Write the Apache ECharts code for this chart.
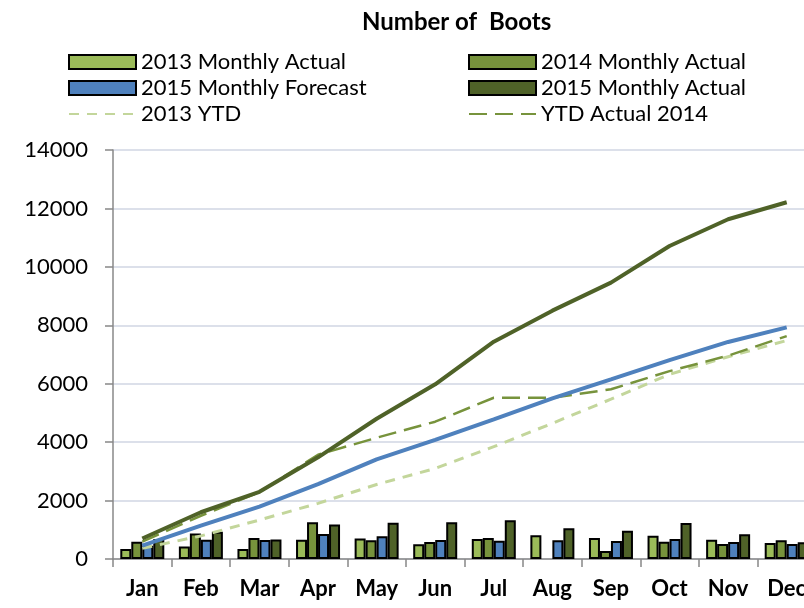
<!DOCTYPE html>
<html>
<head>
<meta charset="utf-8">
<script src="https://cdn.jsdelivr.net/npm/echarts@6/dist/echarts.min.js"></script>
<style>
  html, body { margin: 0; padding: 0; background: #fff; overflow: hidden; }
  /* the source picture is cut off on the right, so the chart runs past the window */
  #chart { width: 816px; height: 608px; }
</style>
</head>
<body>
<div id="chart"></div>
<script>
  const months = ['Jan', 'Feb', 'Mar', 'Apr', 'May', 'Jun', 'Jul', 'Aug', 'Sep', 'Oct', 'Nov', 'Dec'];

  // monthly bars (no 2014 bar in Aug)
  const monthly2013 = [340, 430, 342, 660, 700, 503, 685, 810, 720, 800, 662, 548];
  const monthly2014 = [593, 877, 720, 1255, 640, 582, 720, null, 274, 593, 514, 640];
  const forecast2015 = [450, 660, 650, 856, 775, 650, 628, 640, 616, 685, 582, 514];
  const actual2015 = [685, 935, 670, 1185, 1245, 1256, 1324, 1050, 970, 1233, 845, 570];

  // year-to-date lines
  const ytd2013 = [365, 790, 1335, 1905, 2550, 3100, 3845, 4645, 5470, 6320, 6925, 7480];
  const ytd2014 = [593, 1480, 2290, 3570, 4150, 4700, 5520, 5520, 5810, 6430, 6960, 7630];
  const ytdForecast2015 = [455, 1140, 1790, 2560, 3410, 4075, 4780, 5500, 6150, 6810, 7430, 7930];
  const ytdActual2015 = [700, 1600, 2300, 3480, 4800, 5980, 7440, 8500, 9460, 10715, 11630, 12210];

  const yTicks = [0, 2000, 4000, 6000, 8000, 10000, 12000, 14000];

  const font = 'Lato, "Open Sans", sans-serif';
  const chart = echarts.init(document.getElementById('chart'));

  function bar(name, data, color) {
    return {
      name: name,
      type: 'bar',
      data: data,
      barWidth: 11,
      barGap: '0%',
      itemStyle: { color: color, borderColor: '#000', borderWidth: 2 },
      z: 2
    };
  }

  function line(name, data, color, width, dash, z) {
    return {
      name: name,
      type: 'line',
      data: data,
      symbol: 'none',
      lineStyle: { color: color, width: width, type: dash },
      itemStyle: { color: color },
      z: z
    };
  }

  const legendText = { fontFamily: font, fontSize: 22, color: '#000' };
  // line entries: keep the line, hide the dot
  const noDot = { opacity: 0 };

  chart.setOption({
    animation: false,
    title: {
      text: 'Number of  Boots',
      left: 357,
      top: 5,
      textStyle: { fontFamily: font, fontSize: 24, fontWeight: 'bold', color: '#000' }
    },
    legend: [
      {
        left: 68, top: 51, orient: 'vertical', padding: 0,
        itemWidth: 67, itemHeight: 14, itemGap: 4,
        textStyle: legendText,
        data: [
          { name: '2013 Monthly Actual', icon: 'rect' },
          { name: '2015 Monthly Forecast', icon: 'rect' },
          { name: '2013 YTD', itemStyle: noDot }
        ]
      },
      {
        left: 468, top: 51, orient: 'vertical', padding: 0,
        itemWidth: 67, itemHeight: 14, itemGap: 4,
        textStyle: legendText,
        data: [
          { name: '2014 Monthly Actual', icon: 'rect' },
          { name: '2015 Monthly Actual', icon: 'rect' },
          { name: 'YTD Actual 2014', itemStyle: noDot }
        ]
      }
    ],
    grid: { left: 113, right: 0, top: 150, bottom: 49 },
    xAxis: {
      type: 'category',
      data: months,
      axisLine: { lineStyle: { color: '#888', width: 1.5 } },
      axisTick: { show: true, length: 8, lineStyle: { color: '#888', width: 1.5 } },
      axisLabel: { fontFamily: font, fontSize: 22, fontWeight: 'bold', color: '#000', margin: 19 }
    },
    yAxis: {
      type: 'value',
      min: yTicks[0],
      max: yTicks[yTicks.length - 1],
      interval: 2000,
      axisLine: { show: true, lineStyle: { color: '#888', width: 1.5 } },
      axisTick: { show: true, length: 8, lineStyle: { color: '#888', width: 1.5 } },
      axisLabel: { fontFamily: font, fontSize: 22, color: '#000', margin: 25, formatter: v => String(v) },
      splitLine: { lineStyle: { color: '#dce0ea', width: 2 } }
    },
    series: [
      bar('2013 Monthly Actual', monthly2013, '#9bbb59'),
      bar('2014 Monthly Actual', monthly2014, '#77933c'),
      bar('2015 Monthly Forecast', forecast2015, '#4f81bd'),
      bar('2015 Monthly Actual', actual2015, '#4f6228'),
      line('2013 YTD', ytd2013, '#c3d69b', 3, [10, 8], 3),
      line('YTD Actual 2014', ytd2014, '#77933c', 2.5, [18, 8], 4),
      line('2015 YTD Forecast', ytdForecast2015, '#4f81bd', 4, 'solid', 5),
      line('2015 YTD Actual', ytdActual2015, '#4f6228', 4, 'solid', 6)
    ]
  });
</script>
</body>
</html>
